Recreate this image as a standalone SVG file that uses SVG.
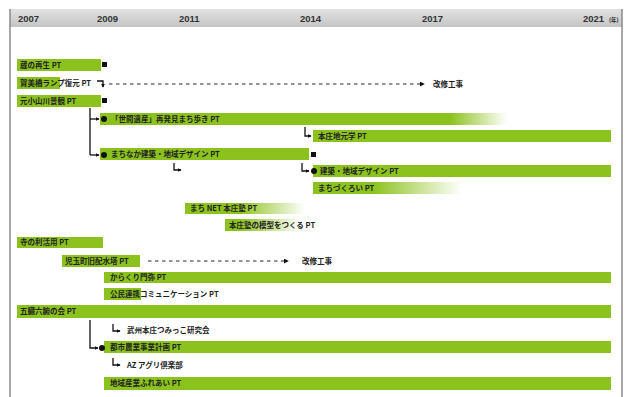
<svg xmlns="http://www.w3.org/2000/svg" width="629" height="397" viewBox="0 0 629 397">
<defs>
<linearGradient id="hdr" x1="0" y1="0" x2="0" y2="1">
<stop offset="0" stop-color="#e2e2e2"/><stop offset="1" stop-color="#c4c4c4"/>
</linearGradient>
<linearGradient id="fadeD" gradientUnits="userSpaceOnUse" x1="100" y1="0" x2="507" y2="0">
<stop offset="0.86" stop-color="#8cc21e"/><stop offset="1" stop-color="#8cc21e" stop-opacity="0"/>
</linearGradient>
<linearGradient id="fadeM" gradientUnits="userSpaceOnUse" x1="313" y1="0" x2="462" y2="0">
<stop offset="0.4" stop-color="#8cc21e"/><stop offset="1" stop-color="#8cc21e" stop-opacity="0"/>
</linearGradient>
<linearGradient id="fadeN" gradientUnits="userSpaceOnUse" x1="185" y1="0" x2="305" y2="0">
<stop offset="0.45" stop-color="#8cc21e"/><stop offset="1" stop-color="#8cc21e" stop-opacity="0"/>
</linearGradient>
<linearGradient id="fadeK" gradientUnits="userSpaceOnUse" x1="225" y1="0" x2="300" y2="0">
<stop offset="0.2" stop-color="#8cc21e"/><stop offset="1" stop-color="#8cc21e" stop-opacity="0"/>
</linearGradient>
<marker id="ah" viewBox="0 0 6 6" refX="5" refY="3" markerWidth="5" markerHeight="5" orient="auto" markerUnits="userSpaceOnUse">
<path d="M0,0 L6,3 L0,6 Z" fill="#111"/>
</marker>
<marker id="ahs" viewBox="0 0 6 6" refX="5" refY="3" markerWidth="4" markerHeight="4" orient="auto" markerUnits="userSpaceOnUse">
<path d="M0,0 L6,3 L0,6 Z" fill="#111"/>
</marker>
</defs>
<style>
.bar{fill:#8cc21e}
.t{font-family:"Noto Sans CJK JP","Liberation Sans",sans-serif;font-size:7.5px;font-weight:bold;fill:#222}
.yr{font-family:"Liberation Sans",Arial,sans-serif;font-size:9.5px;font-weight:bold;fill:#333}
.ln{fill:none;stroke:#111;stroke-width:1.3}
.dash{fill:none;stroke:#111;stroke-width:0.9;stroke-dasharray:3.5,3.5}
.sq{fill:#111}
.dot{fill:#111}
</style>
<rect x="0" y="0" width="629" height="397" fill="#ffffff"/>
<g id="frame">
<rect x="10" y="9" width="612" height="18" fill="url(#hdr)"/>
<line x1="10" y1="9" x2="10" y2="397" stroke="#8a8a8a" stroke-width="1.5"/>
<line x1="622" y1="9" x2="622" y2="397" stroke="#8a8a8a" stroke-width="1.5"/>
<text class="yr" x="18" y="22">2007</text>
<text class="yr" x="97" y="22">2009</text>
<text class="yr" x="179" y="22">2011</text>
<text class="yr" x="300" y="22">2014</text>
<text class="yr" x="422" y="22">2017</text>
<text class="yr" x="583" y="22">2021</text>
<text class="t" x="609" y="22" style="font-size:5.5px">(年)</text>
</g>
<g id="connectors">
<path class="ln" d="M97,81 H103 V87" marker-end="url(#ahs)"/>
<path class="dash" d="M109,84 H424" marker-end="url(#ah)"/>
<path class="ln" d="M90,108 V155"/>
<path class="ln" d="M90,119 H99" marker-end="url(#ahs)"/>
<path class="ln" d="M90,155 H99" marker-end="url(#ahs)"/>
<path class="ln" d="M305,127 V136 H311" marker-end="url(#ahs)"/>
<path class="ln" d="M174,163 V170 H181" marker-end="url(#ahs)"/>
<path class="ln" d="M302,163 V171 H309" marker-end="url(#ahs)"/>
<path class="dash" d="M148,261 H288" marker-end="url(#ah)"/>
<path class="ln" d="M90,320 V348 H98" marker-end="url(#ahs)"/>
<path class="ln" d="M113,324 V331 H120" marker-end="url(#ahs)"/>
<path class="ln" d="M113,358 V365 H120" marker-end="url(#ahs)"/>
</g>
<g id="n-kura"><rect class="bar" x="17" y="59" width="84" height="12"/><text class="t" x="20" y="68">蔵の再生 PT</text><rect class="sq" x="102" y="62" width="5" height="5"/></g>
<g id="n-kamibashi"><rect class="bar" x="17" y="77" width="43" height="12"/><text class="t" x="20" y="86">賀美橋ランプ復元 PT</text></g>
<g id="n-kaishu1"><text class="t" x="433" y="87">改修工事</text></g>
<g id="n-motokoyama"><rect class="bar" x="17" y="95" width="84" height="12"/><text class="t" x="20" y="104">元小山川景観 PT</text><rect class="sq" x="102" y="98" width="5" height="5"/></g>
<g id="n-seken"><rect x="100" y="113" width="407" height="12" fill="url(#fadeD)"/><circle class="dot" cx="104" cy="119" r="3"/><text class="t" x="111" y="122">「世間遺産」再発見まち歩き PT</text></g>
<g id="n-jimoto"><rect class="bar" x="313" y="130" width="298" height="12"/><text class="t" x="318" y="139">本庄地元学 PT</text></g>
<g id="n-machinaka"><rect class="bar" x="100" y="148" width="209" height="12"/><circle class="dot" cx="104" cy="155" r="3"/><text class="t" x="111" y="157">まちなか建築・地域デザイン PT</text><rect class="sq" x="311" y="152" width="5" height="5"/></g>
<g id="n-kenchiku"><rect class="bar" x="313" y="165" width="298" height="12"/><circle class="dot" cx="314" cy="171" r="3"/><text class="t" x="320" y="174">建築・地域デザイン PT</text></g>
<g id="n-tsukuroi"><rect x="313" y="182" width="149" height="12" fill="url(#fadeM)"/><text class="t" x="318" y="191">まちづくろい PT</text></g>
<g id="n-net"><rect x="185" y="203" width="120" height="11" fill="url(#fadeN)"/><text class="t" x="190" y="211">まち NET 本庄塾 PT</text></g>
<g id="n-mokei"><rect x="225" y="219" width="80" height="12" fill="url(#fadeK)"/><text class="t" x="229" y="228">本庄塾の模型をつくる PT</text></g>
<g id="n-tera"><rect class="bar" x="17" y="237" width="86" height="11"/><text class="t" x="20" y="245">寺の利活用 PT</text></g>
<g id="n-kodama"><rect class="bar" x="62" y="255" width="78" height="12"/><text class="t" x="65" y="264">児玉町旧配水塔 PT</text></g>
<g id="n-kaishu2"><text class="t" x="302" y="264">改修工事</text></g>
<g id="n-karakuri"><rect class="bar" x="104" y="272" width="507" height="11"/><text class="t" x="110" y="280">からくり門弥 PT</text></g>
<g id="n-komin"><rect class="bar" x="104" y="288" width="37" height="12"/><text class="t" x="110" y="297">公民連携コミュニケーション PT</text></g>
<g id="n-gozo"><rect class="bar" x="17" y="305" width="594" height="13"/><text class="t" x="20" y="314">五臓六腑の会 PT</text></g>
<g id="n-tsumikko"><text class="t" x="127" y="333">武州本庄つみっこ研究会</text></g>
<g id="n-toshi"><rect class="bar" x="104" y="341" width="507" height="12"/><circle class="dot" cx="102" cy="348" r="3"/><text class="t" x="110" y="350">都市農業事業計画 PT</text></g>
<g id="n-agri"><text class="t" x="127" y="368">AZ アグリ倶楽部</text></g>
<g id="n-fureai"><rect class="bar" x="104" y="377" width="507" height="13"/><text class="t" x="110" y="386">地域産業ふれあい PT</text></g>
</svg>
